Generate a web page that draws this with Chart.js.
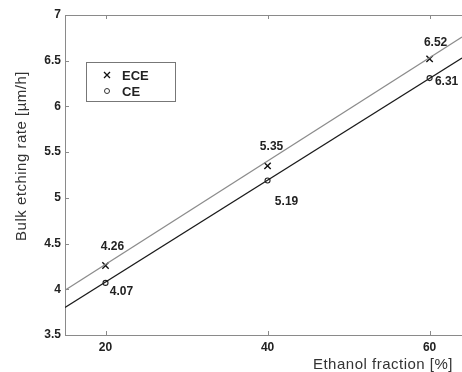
<!DOCTYPE html>
<html>
<head>
<meta charset="utf-8">
<script src="https://cdn.jsdelivr.net/npm/chart.js@4.4.0/dist/chart.umd.min.js"></script>
<style>
  html, body { margin: 0; padding: 0; background: #fff; }
  #wrap { width: 462px; height: 372px; }
</style>
</head>
<body>
<div id="wrap"><canvas id="etchChart" width="462" height="372"></canvas></div>
<script>
// ------------------ Data ------------------
const ethanolFraction = [20, 40, 60];
const eceRate = [4.26, 5.35, 6.52];
const ceRate = [4.07, 5.19, 6.31];

// fitted lines at the plot edges
const fitX = [15, 64];
const eceFit = [3.99, 6.76];
const ceFit = [3.80, 6.53];

const xTicks = [20, 40, 60];
const yTicks = [3.5, 4, 4.5, 5, 5.5, 6, 6.5, 7];

// label offsets (px) from each marker
const eceLabelOffset = [[7, -19], [4, -19], [6, -16]];
const ceLabelOffset = [[16, 9], [19, 21], [17, 4]];

const axisGray = "#8a8a8a";
const textDark = "#222";

function toPoints(xs, ys) {
    return xs.map((x, i) => ({ x, y: ys[i] }));
}

// draws the top border, inward tick marks, point labels, legend and axis titles
const decorPlugin = {
    id: "decor",
    afterDraw(chart) {
        const ctx = chart.ctx;
        const area = chart.chartArea;
        const xs = chart.scales.x;
        const ys = chart.scales.y;

        ctx.save();
        ctx.strokeStyle = axisGray;
        ctx.lineWidth = 1;
        // top border
        ctx.beginPath();
        ctx.moveTo(area.left, area.top + 0.5);
        ctx.lineTo(chart.width, area.top + 0.5);
        ctx.stroke();
        // tick marks
        ctx.beginPath();
        xTicks.forEach(v => {
            const px = Math.round(xs.getPixelForValue(v)) + 0.5;
            ctx.moveTo(px, area.bottom);
            ctx.lineTo(px, area.bottom - 4);
            ctx.moveTo(px, area.top);
            ctx.lineTo(px, area.top + 4);
        });
        yTicks.forEach(v => {
            const py = Math.round(ys.getPixelForValue(v)) + 0.5;
            ctx.moveTo(area.left, py);
            ctx.lineTo(area.left + 4, py);
        });
        ctx.stroke();

        // point labels
        ctx.fillStyle = textDark;
        ctx.font = "bold 12px 'Liberation Sans', Arial, sans-serif";
        ctx.textAlign = "center";
        ctx.textBaseline = "middle";
        chart.getDatasetMeta(2).data.forEach((pt, i) => {
            const o = eceLabelOffset[i];
            ctx.fillText(eceRate[i].toFixed(2), pt.x + o[0], pt.y + o[1]);
        });
        chart.getDatasetMeta(3).data.forEach((pt, i) => {
            const o = ceLabelOffset[i];
            ctx.fillText(ceRate[i].toFixed(2), pt.x + o[0], pt.y + o[1]);
        });

        // legend box
        const lx = area.left + 21, ly = area.top + 47;
        ctx.strokeStyle = "#777";
        ctx.strokeRect(lx + 0.5, ly + 0.5, 89, 39);
        ctx.strokeStyle = "#111";
        ctx.lineWidth = 1.3;
        ctx.beginPath();
        ctx.moveTo(lx + 18, ly + 10); ctx.lineTo(lx + 24, ly + 16);
        ctx.moveTo(lx + 24, ly + 10); ctx.lineTo(lx + 18, ly + 16);
        ctx.stroke();
        ctx.strokeStyle = "#333";
        ctx.lineWidth = 1;
        ctx.beginPath();
        ctx.arc(lx + 21, ly + 29, 2.5, 0, Math.PI * 2);
        ctx.stroke();
        ctx.font = "bold 13px 'Liberation Sans', Arial, sans-serif";
        ctx.textAlign = "left";
        ctx.fillText("ECE", lx + 36, ly + 14);
        ctx.fillText("CE", lx + 36, ly + 30);

        // axis titles
        ctx.fillStyle = "#333";
        ctx.font = "15px 'Liberation Sans', Arial, sans-serif";
        ctx.letterSpacing = "0.5px";
        ctx.textBaseline = "alphabetic";
        ctx.textAlign = "right";
        ctx.fillText("Ethanol fraction [%]", 453, 369);
        ctx.save();
        ctx.translate(26, 156);
        ctx.rotate(-Math.PI / 2);
        ctx.textAlign = "center";
        ctx.fillText("Bulk etching rate [\u00b5m/h]", 0, 0);
        ctx.restore();
        ctx.restore();
    }
};

function renderChart() {
    new Chart(document.getElementById("etchChart"), {
        type: "scatter",
        data: {
            datasets: [{
                label: "ECE fit",
                data: toPoints(fitX, eceFit),
                showLine: true,
                borderColor: "#8c8c8c",
                borderWidth: 1.2,
                pointRadius: 0
            }, {
                label: "CE fit",
                data: toPoints(fitX, ceFit),
                showLine: true,
                borderColor: "#1a1a1a",
                borderWidth: 1.2,
                pointRadius: 0
            }, {
                label: "ECE",
                data: toPoints(ethanolFraction, eceRate),
                pointStyle: "crossRot",
                pointRadius: 4.5,
                borderColor: "#111",
                borderWidth: 1.4
            }, {
                label: "CE",
                data: toPoints(ethanolFraction, ceRate),
                pointStyle: "circle",
                pointRadius: 2.5,
                borderColor: "#222",
                backgroundColor: "#fff",
                borderWidth: 1.1
            }]
        },
        options: {
            responsive: false,
            animation: false,
            layout: { autoPadding: false, padding: { top: 15, right: 0, left: 0, bottom: 0 } },
            plugins: {
                legend: { display: false },
                tooltip: { enabled: false }
            },
            scales: {
                x: {
                    type: "linear",
                    min: 15,
                    max: 64,
                    afterBuildTicks: scale => { scale.ticks = xTicks.map(v => ({ value: v })); },
                    afterFit: scale => {
                        scale.height = 37;
                        scale.paddingLeft = 0;
                        scale.paddingRight = 0;
                    },
                    grid: { display: true, drawOnChartArea: false, drawTicks: false },
                    border: { color: axisGray, width: 1 },
                    ticks: {
                        padding: 5,
                        color: textDark,
                        font: { family: "'Liberation Sans', Arial, sans-serif", size: 12, weight: "bold" }
                    }
                },
                y: {
                    min: 3.5,
                    max: 7,
                    afterBuildTicks: scale => { scale.ticks = yTicks.map(v => ({ value: v })); },
                    afterFit: scale => { scale.width = 65; },
                    grid: { display: true, drawOnChartArea: false, drawTicks: false },
                    border: { color: axisGray, width: 1 },
                    ticks: {
                        padding: 4,
                        color: textDark,
                        callback: v => String(v),
                        font: { family: "'Liberation Sans', Arial, sans-serif", size: 12, weight: "bold" }
                    }
                }
            }
        },
        plugins: [decorPlugin]
    });
}

document.addEventListener("DOMContentLoaded", renderChart);
</script>
</body>
</html>
